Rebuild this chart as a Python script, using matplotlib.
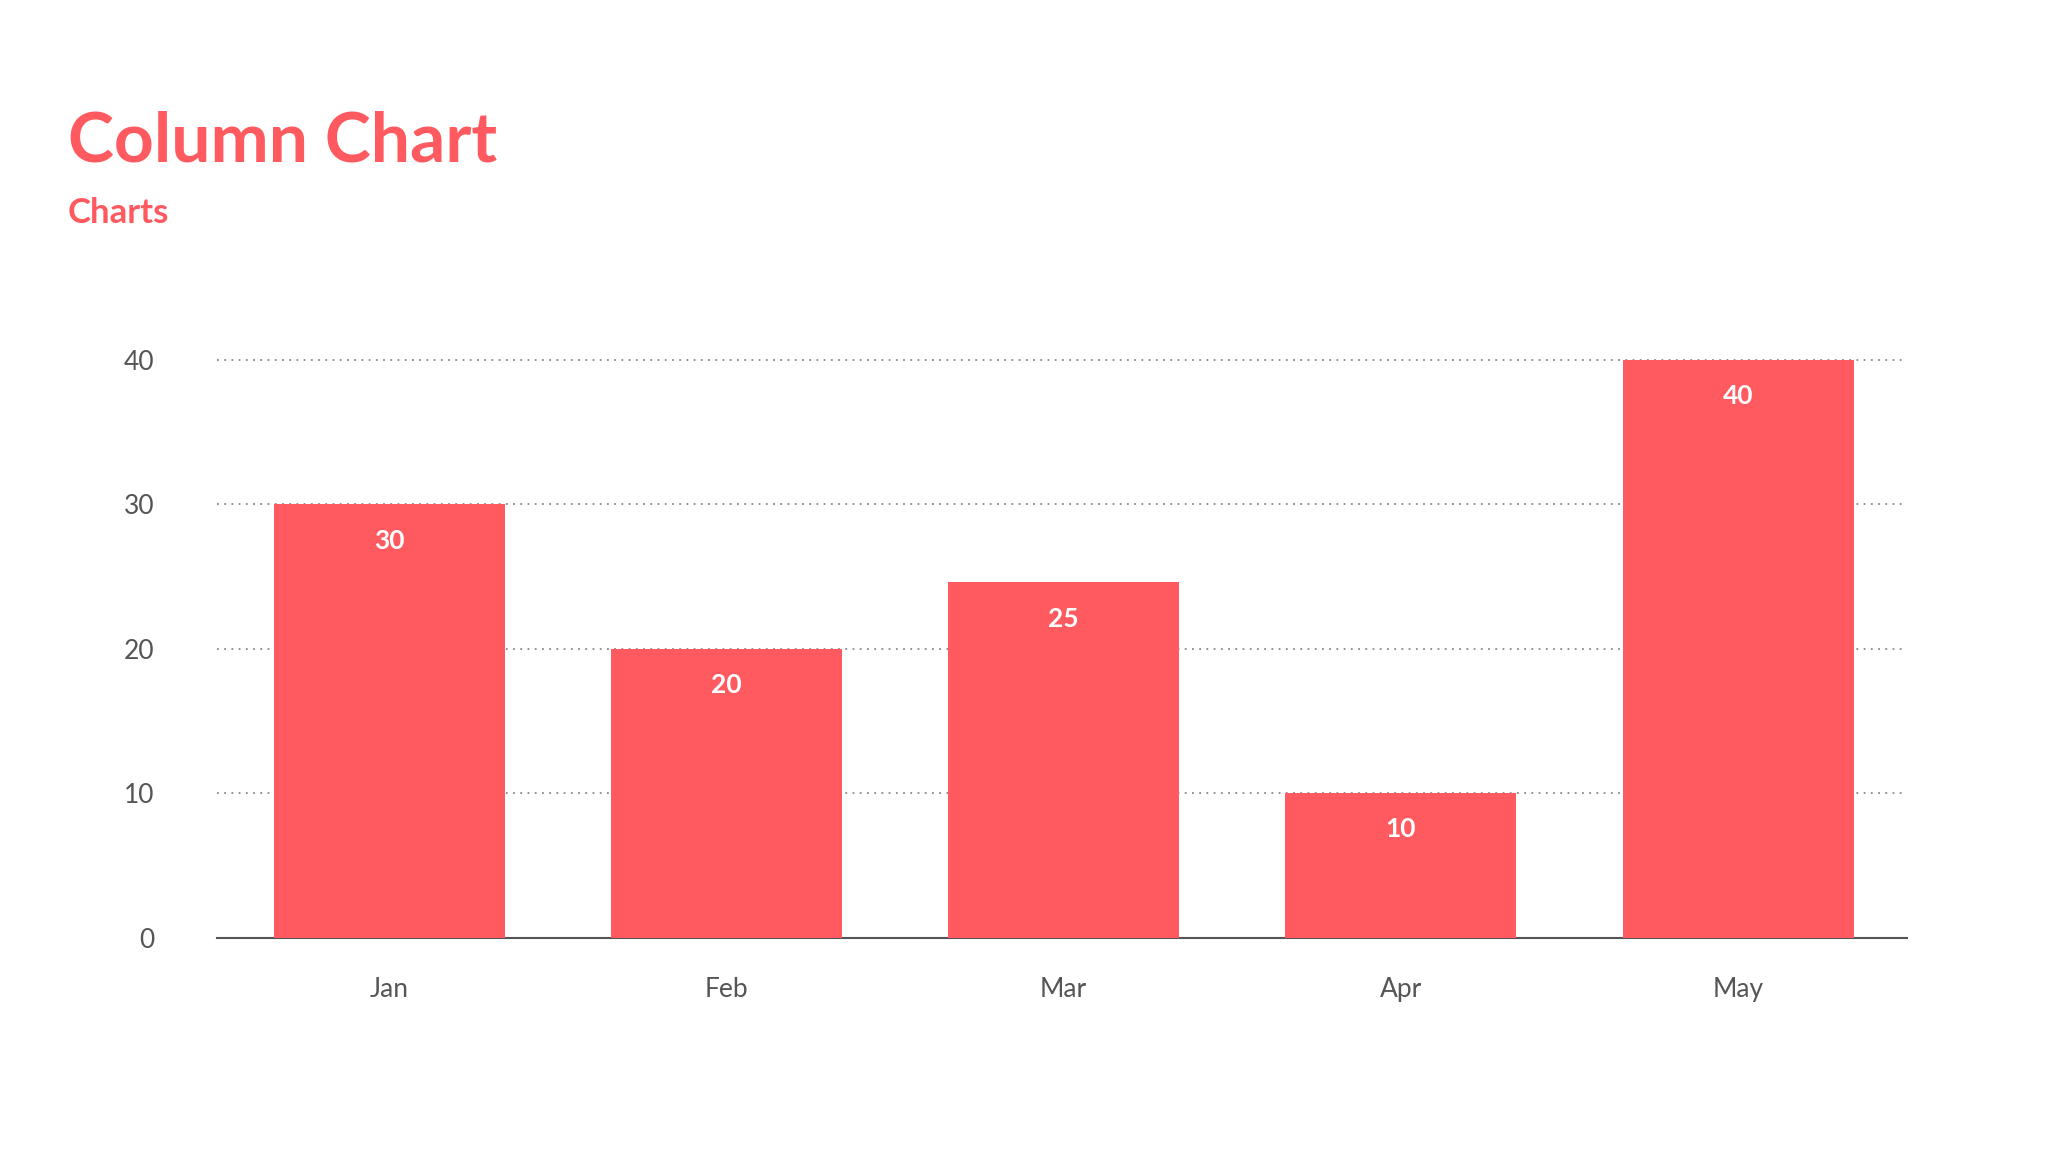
import matplotlib
matplotlib.use("Agg")
import matplotlib.pyplot as plt

months = ["Jan", "Feb", "Mar", "Apr", "May"]
values = [30, 20, 24.6, 10, 40]
value_labels = ["30", "20", "25", "10", "40"]
yticks = [0, 10, 20, 30, 40]

red = "#FF5A5F"
grey = "#555555"
plt.rcParams['font.family'] = ['Lato', 'DejaVu Sans']

fig = plt.figure(figsize=(20.48, 11.52), dpi=100)
ax = fig.add_axes([0.106, 0.186, 0.825, 0.5015])
x = range(len(months))
bars = ax.bar(x, values, width=0.685, color=red, zorder=3)
for b, lab in zip(bars, value_labels):
    ax.text(b.get_x() + b.get_width() / 2, b.get_height() - 2.5, lab,
            ha="center", va="center", color="white", fontsize=19, fontweight="bold", zorder=4)
ax.set_xlim(-0.51, 4.5)
ax.set_ylim(0, 40)
ax.set_yticks(yticks)
ax.set_xticks(list(x))
ax.set_xticklabels(months)
ax.tick_params(length=0, labelsize=19, colors=grey)
ax.tick_params(axis="y", pad=45)
ax.tick_params(axis="x", pad=28)
for t in yticks[1:]:
    ax.axhline(t, color="#888888", linestyle=(0, (1, 3)), linewidth=1.3, zorder=1, clip_on=False)
for s in ["top", "right", "left"]:
    ax.spines[s].set_visible(False)
ax.spines["bottom"].set_color(grey)
ax.spines["bottom"].set_linewidth(1.5)

fig.text(0.033, 0.877, "Column Chart", color=red, fontsize=50, fontweight="bold", va="center")
fig.text(0.033, 0.815, "Charts", color=red, fontsize=25, fontweight="bold", va="center")
fig.savefig("out.png", dpi=100, facecolor="white")
